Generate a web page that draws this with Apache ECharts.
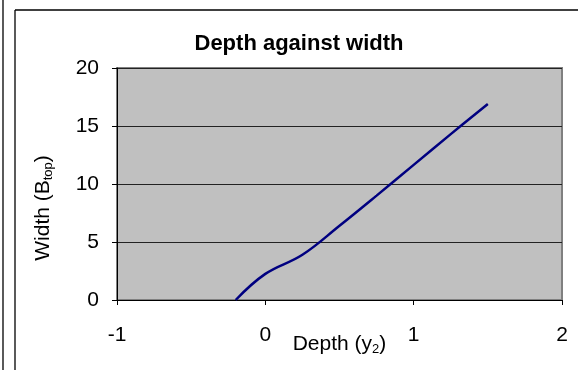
<!DOCTYPE html>
<html>
<head>
<meta charset="utf-8">
<script src="https://cdn.jsdelivr.net/npm/echarts@6/dist/echarts.min.js"></script>
<style>
  html, body { margin: 0; padding: 0; background: #fff; }
  #chart { width: 578px; height: 370px; }
</style>
</head>
<body>
<div id="chart"></div>
<script>
// Depth y2 and top width B_top of the section
const depthValues = [-0.2, 0, 0.25, 0.5, 0.75, 1.0, 1.25, 1.5];
const widthValues = [0, 2.25, 3.9, 6.4, 9.0, 11.65, 14.3, 16.9];

const xTicks = { min: -1, max: 2, interval: 1 };
const yTicks = { min: 0, max: 20, interval: 5 };

const font = '"Liberation Sans", Arial, sans-serif';
const points = depthValues.map((d, i) => [d, widthValues[i]]);

const chart = echarts.init(document.getElementById('chart'), null, { renderer: 'canvas' });
chart.setOption({
  backgroundColor: '#ffffff',
  animation: false,
  title: {
    text: 'Depth against width',
    left: 294,
    top: 28,
    textAlign: 'center',
    textStyle: { fontFamily: font, fontWeight: 'bold', fontSize: 22, color: '#000' }
  },
  grid: {
    left: 117, right: 16, top: 68, bottom: 70,
    outerBoundsMode: 'none',
    containLabel: false,
    show: true,
    backgroundColor: '#c0c0c0',
    borderColor: '#808080',
    borderWidth: 2
  },
  xAxis: {
    type: 'value',
    min: xTicks.min, max: xTicks.max, interval: xTicks.interval,
    name: '{n|Depth (y}{s|2}{n|)}',
    nameLocation: 'middle',
    nameGap: 33,
    nameMoveOverlap: false,
    nameTextStyle: {
      rich: {
        n: { fontFamily: font, fontSize: 21, color: '#000' },
        s: { fontFamily: font, fontSize: 13, color: '#000', padding: [10, 0, 0, 0] }
      }
    },
    axisLine: { show: true, onZero: false, lineStyle: { color: '#000', width: 1 } },
    axisTick: { show: true, length: 5, lineStyle: { color: '#000' } },
    axisLabel: { fontFamily: font, fontSize: 21, color: '#000', margin: 25 },
    splitLine: { show: false }
  },
  yAxis: {
    type: 'value',
    min: yTicks.min, max: yTicks.max, interval: yTicks.interval,
    name: '{n|Width (B}{s|top}{n|)}',
    nameLocation: 'middle',
    nameGap: 62,
    nameRotate: 90,
    nameMoveOverlap: false,
    nameTextStyle: {
      padding: [0, 48, 0, 0],
      rich: {
        n: { fontFamily: font, fontSize: 21, color: '#000' },
        s: { fontFamily: font, fontSize: 13, color: '#000', padding: [10, 0, 0, 0] }
      }
    },
    axisLine: { show: true, onZero: false, lineStyle: { color: '#000', width: 1 } },
    axisTick: { show: true, length: 5, lineStyle: { color: '#000' } },
    axisLabel: { fontFamily: font, fontSize: 21, color: '#000', margin: 18 },
    splitLine: { show: true, lineStyle: { color: '#222', width: 1 } }
  },
  series: [{
    type: 'line',
    data: points,
    smooth: 0.4,
    showSymbol: false,
    lineStyle: { color: '#000080', width: 2.5 },
    clip: false
  }],
  graphic: [
    { type: 'line', shape: { x1: 3, y1: 0, x2: 3, y2: 370 }, style: { stroke: '#000', lineWidth: 1.3 } },
    { type: 'line', shape: { x1: 15, y1: 10, x2: 15, y2: 370 }, style: { stroke: '#000', lineWidth: 1.3 } },
    { type: 'line', shape: { x1: 15, y1: 10, x2: 578, y2: 10 }, style: { stroke: '#000', lineWidth: 1.3 } }
  ]
});
</script>
</body>
</html>
